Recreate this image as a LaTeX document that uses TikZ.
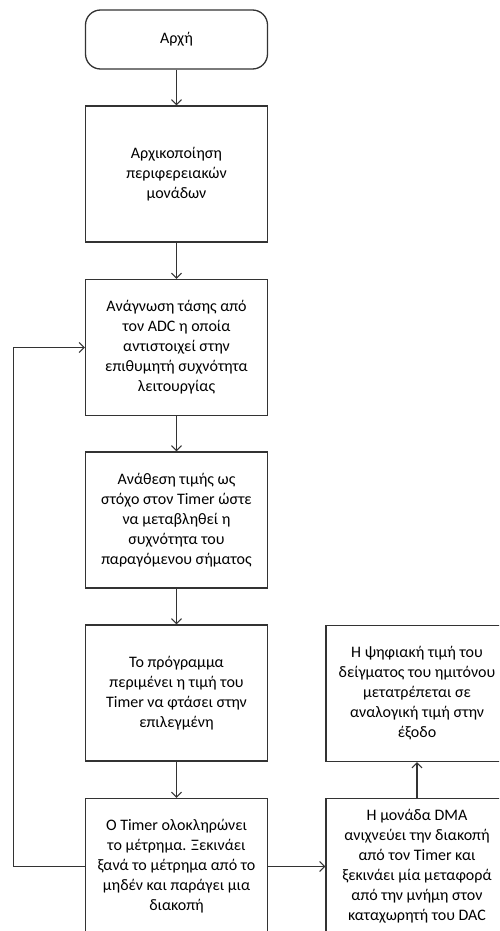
\documentclass[tikz,border=0pt]{standalone}
\usepackage{fontspec}
\setmainfont{Carlito}
\usetikzlibrary{arrows.meta}
\definecolor{fcInk}{HTML}{333333}

\begin{document}
\begin{tikzpicture}[
  x=1pt,y=-1pt,
  font=\fontsize{16}{20}\selectfont,
  blk/.style={draw=fcInk,line width=1.3pt,minimum width=182pt,minimum height=136pt,
              inner sep=2pt,align=center,text=black},
  term/.style={blk,rounded corners=15pt,minimum height=59pt},
  arr/.style={draw=fcInk,line width=1.1pt,-{Straight Barb[length=5pt,width=10pt]}}
]
\useasboundingbox (0,0) rectangle (499,931);
\clip (0,0) rectangle (499,931);
% main column
\node[term] (start) at (176.5,39.5) {Αρχή};
\node[blk] (init) at (176.5,174) {Αρχικοποίηση\\περιφερειακών\\μονάδων};
\node[blk] (adc) at (176.5,347.5) {Ανάγνωση τάσης από\\τον ADC η οποία\\αντιστοιχεί στην\\επιθυμητή συχνότητα\\λειτουργίας};
\node[blk] (tgt) at (176.5,520) {Ανάθεση τιμής ως\\στόχο στον Timer ώστε\\να μεταβληθεί η\\συχνότητα του\\παραγόμενου σήματος};
\node[blk] (wait) at (176.5,693) {Το πρόγραμμα\\περιμένει η τιμή του\\Timer να φτάσει στην\\επιλεγμένη};
\node[blk] (tmr) at (176.5,866.5) {Ο Timer ολοκληρώνει\\το μέτρημα. Ξεκινάει\\ξανά το μέτρημα από το\\μηδέν και παράγει μια\\διακοπή};
% right column
\node[blk] (dac) at (417,693.5) {Η ψηφιακή τιμή του\\δείγματος του ημιτόνου\\μετατρέπεται σε\\αναλογική τιμή στην\\έξοδο};
\node[blk] (dma) at (417,866.5) {Η μονάδα DMA\\ανιχνεύει την διακοπή\\από τον Timer και\\ξεκινάει μία μεταφορά\\από την μνήμη στον\\καταχωρητή του DAC};
% flow
\draw[arr] (start) -- (init);
\draw[arr] (init) -- (adc);
\draw[arr] (adc) -- (tgt);
\draw[arr] (tgt) -- (wait);
\draw[arr] (wait) -- (tmr);
\draw[arr] (tmr) -- (dma);
\draw[arr] (dma) -- (dac);
% loop back
\draw[arr] (tmr.west) -- ++(-71,0) |- (adc.west);
\end{tikzpicture}
\end{document}
